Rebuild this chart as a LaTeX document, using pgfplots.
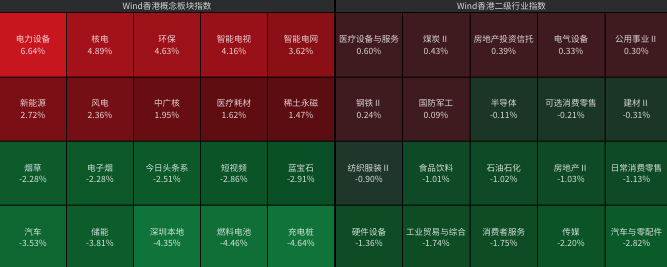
\documentclass[border=0pt]{standalone}
\usepackage{pgfplots}
\pgfplotsset{compat=1.18}
\usepackage{pgfplotstable}
\usepackage{fontspec}
\newfontfamily\cjk{Noto Sans CJK SC}
\definecolor{titlebg}{HTML}{2B2C2E}
\definecolor{titletx}{HTML}{D6D6D6}
% left panel colours
\definecolor{la1}{HTML}{C8161F}\definecolor{la2}{HTML}{A3111A}\definecolor{la3}{HTML}{9D1119}\definecolor{la4}{HTML}{9A1018}\definecolor{la5}{HTML}{8B1016}
\definecolor{lb1}{HTML}{7A0F15}\definecolor{lb2}{HTML}{741015}\definecolor{lb3}{HTML}{680E13}\definecolor{lb4}{HTML}{600D12}\definecolor{lb5}{HTML}{5C0D12}
\definecolor{lc1}{HTML}{0D5A2B}\definecolor{lc2}{HTML}{0C5829}\definecolor{lc3}{HTML}{0C5A2A}\definecolor{lc4}{HTML}{0B5427}\definecolor{lc5}{HTML}{0B4F26}
\definecolor{ld1}{HTML}{0E6631}\definecolor{ld2}{HTML}{0C5C2C}\definecolor{ld3}{HTML}{107339}\definecolor{ld4}{HTML}{0F6F37}\definecolor{ld5}{HTML}{10733A}
% right panel colours
\definecolor{rpos}{HTML}{3F1A1F}
\definecolor{rneg}{HTML}{1B3526}
\definecolor{rc1}{HTML}{1F372A}
\definecolor{rc2}{HTML}{0E4A25}
\definecolor{rd1}{HTML}{0D4C25}
\definecolor{rd4}{HTML}{0B5427}
\definecolor{rd5}{HTML}{0B5A2A}

\pgfplotstableread[col sep=comma]{
x,y,name,val
33,44.75,电力设备,6.64
100,44.75,核电,4.89
167,44.75,环保,4.63
234,44.75,智能电视,4.16
301,44.75,智能电网,3.62
33,109,新能源,2.72
100,109,风电,2.36
167,109,中广核,1.95
234,109,医疗耗材,1.62
301,109,稀土永磁,1.47
33,173.5,烟草,-2.28
100,173.5,电子烟,-2.28
167,173.5,今日头条系,-2.51
234,173.5,短视频,-2.86
301,173.5,蓝宝石,-2.91
33,237.5,汽车,-3.53
100,237.5,储能,-3.81
167,237.5,深圳本地,-4.35
234,237.5,燃料电池,-4.46
301,237.5,充电桩,-4.64
}\leftdata

\pgfplotstableread[col sep=comma]{
x,y,name,val
369,44.75,医疗设备与服务,0.60
436,44.75,煤炭Ⅱ,0.43
503.75,44.75,房地产投资信托,0.39
571,44.75,电气设备,0.33
636.5,44.75,公用事业Ⅱ,0.30
369,109,钢铁Ⅱ,0.24
436,109,国防军工,0.09
503.75,109,半导体,-0.11
571,109,可选消费零售,-0.21
636.5,109,建材Ⅱ,-0.31
369,173.5,纺织服装Ⅱ,-0.90
436,173.5,食品饮料,-1.01
503.75,173.5,石油石化,-1.02
571,173.5,房地产Ⅱ,-1.03
636.5,173.5,日常消费零售,-1.13
369,237.5,硬件设备,-1.36
436,237.5,工业贸易与综合,-1.74
503.75,237.5,消费者服务,-1.75
571,237.5,传媒,-2.20
636.5,237.5,汽车与零配件,-2.82
}\rightdata

% tile: x0 y0 x1 y1 colour
\newcommand\tile[5]{\addplot[fill=#5, draw=none, mark=none] coordinates {(#1,#2) (#3,#2) (#3,#4) (#1,#4) (#1,#2)};}

\begin{document}
\begin{tikzpicture}
\begin{axis}[
  width=667bp, height=267bp, scale only axis,
  xmin=0, xmax=667, ymin=0, ymax=267, y dir=reverse,
  axis line style={draw=none}, ticks=none,
  clip=true,
]
% black background
\addplot[fill=black, draw=none, mark=none] coordinates {(0,0) (667,0) (667,267) (0,267) (0,0)};
% title bars
\tile{0}{0}{334}{12}{titlebg}
\tile{336}{0}{667}{12}{titlebg}
% left panel
\tile{0}{13}{66}{76.5}{la1}
\tile{67}{13}{133}{76.5}{la2}
\tile{134}{13}{200}{76.5}{la3}
\tile{201}{13}{267}{76.5}{la4}
\tile{268}{13}{334}{76.5}{la5}
\tile{0}{77.5}{66}{140.5}{lb1}
\tile{67}{77.5}{133}{140.5}{lb2}
\tile{134}{77.5}{200}{140.5}{lb3}
\tile{201}{77.5}{267}{140.5}{lb4}
\tile{268}{77.5}{334}{140.5}{lb5}
\tile{0}{141.5}{66}{204.5}{lc1}
\tile{67}{141.5}{133}{204.5}{lc2}
\tile{134}{141.5}{200}{204.5}{lc3}
\tile{201}{141.5}{267}{204.5}{lc4}
\tile{268}{141.5}{334}{204.5}{lc5}
\tile{0}{205.5}{66}{267}{ld1}
\tile{67}{205.5}{133}{267}{ld2}
\tile{134}{205.5}{200}{267}{ld3}
\tile{201}{205.5}{267}{267}{ld4}
\tile{268}{205.5}{334}{267}{ld5}
% right panel
\tile{336}{13}{402}{76.5}{rpos}
\tile{403}{13}{469.5}{76.5}{rpos}
\tile{470.5}{13}{537}{76.5}{rpos}
\tile{538}{13}{604.5}{76.5}{rpos}
\tile{605.5}{13}{667}{76.5}{rpos}
\tile{336}{77.5}{402}{140.5}{rpos}
\tile{403}{77.5}{469.5}{140.5}{rpos}
\tile{470.5}{77.5}{537}{140.5}{rneg}
\tile{538}{77.5}{604.5}{140.5}{rneg}
\tile{605.5}{77.5}{667}{140.5}{rneg}
\tile{336}{141.5}{402}{204.5}{rc1}
\tile{403}{141.5}{469.5}{204.5}{rc2}
\tile{470.5}{141.5}{537}{204.5}{rc2}
\tile{538}{141.5}{604.5}{204.5}{rc2}
\tile{605.5}{141.5}{667}{204.5}{rc2}
\tile{336}{205.5}{402}{267}{rd1}
\tile{403}{205.5}{469.5}{267}{rd1}
\tile{470.5}{205.5}{537}{267}{rd1}
\tile{538}{205.5}{604.5}{267}{rd4}
\tile{605.5}{205.5}{667}{267}{rd5}
% titles
\node[text=titletx, font=\cjk\fontsize{8.6}{10}\selectfont, anchor=center] at (axis cs:167,6) {Wind香港概念板块指数};
\node[text=titletx, font=\cjk\fontsize{8.6}{10}\selectfont, anchor=center] at (axis cs:501.5,6) {Wind香港二级行业指数};
% labels
\pgfplotsset{lbl/.style={draw=none, mark=none,
  point meta=explicit symbolic,
  visualization depends on={\thisrow{val}\as\myval},
  nodes near coords={\pgfplotspointmeta\\\pgfmathprintnumber[fixed, fixed zerofill, precision=2, assume math mode=true]{\myval}\%},
  every node near coord/.style={anchor=center, align=center, inner sep=0pt,
    text=white, text opacity=0.82,
    font=\cjk\fontsize{8.6}{11.7}\selectfont}}}
\addplot[lbl] table[x=x, y=y, meta=name] {\leftdata};
\addplot[lbl] table[x=x, y=y, meta=name] {\rightdata};
\end{axis}
\end{tikzpicture}
\end{document}
